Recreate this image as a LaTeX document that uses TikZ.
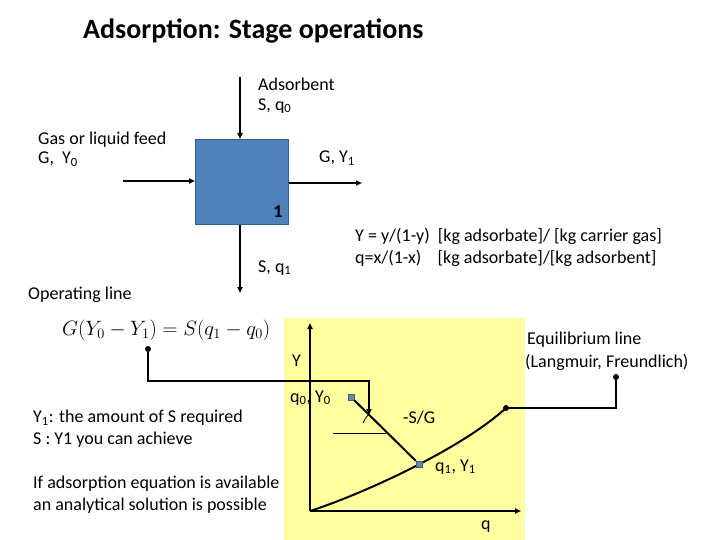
\documentclass[tikz,border=0pt]{standalone}
\usepackage{fontspec}
\setmainfont{Carlito}
\usetikzlibrary{arrows.meta}
\definecolor{boxblue}{HTML}{4F81BD}
\definecolor{boxedge}{HTML}{385D8A}
\definecolor{paleyellow}{HTML}{FFFFA0}
\definecolor{markgrey}{HTML}{6F87A8}
\begin{document}
\begin{tikzpicture}[x=1pt,y=-1pt,
  txt/.style={anchor=west,inner sep=0pt,font=\fontsize{18}{21}\selectfont},
  flow/.style={line width=1.5pt,-{Triangle[length=6pt,width=5pt]}},
  link/.style={line width=1.5pt},
  dotmark/.style={circle,fill=black,inner sep=0pt,minimum size=6pt},
  ptmark/.style={rectangle,fill=markgrey,draw=boxedge,line width=0.4pt,inner sep=0pt,minimum size=6pt}]
\useasboundingbox (0,0) rectangle (720,540);
\fill[white] (0,0) rectangle (720,540);
% title
\node[anchor=west,inner sep=0pt,font=\fontsize{28}{32}\selectfont\bfseries] (title) at (83,31) {Adsorption: Stage operations};
% stage box
\node[draw=boxedge,fill=boxblue,line width=1pt,minimum width=93pt,minimum height=85pt,inner sep=0pt,anchor=north west] (stage) at (195,139) {};
\node[inner sep=0pt,font=\fontsize{18}{21}\selectfont\bfseries] (one) at (278,212) {1};
\coordinate (topin) at (240,77);
\coordinate (botout) at (240,293);
\coordinate (leftin) at (123,181);
\coordinate (rightout) at (362,183);
\draw[flow] (topin) -- (stage.north -| topin);
\draw[flow] (stage.south -| botout) -- (botout);
\draw[flow] (leftin) -- (stage.west |- leftin);
\draw[flow] (stage.east |- rightout) -- (rightout);
\node[txt] (adsorbent) at (258,84) {Adsorbent};
\node[txt] (sq0) at (258,106) {S, q\textsubscript{0}};
\node[txt] (feed) at (38,140) {Gas or liquid feed};
\node[txt] (gy0) at (38,159) {G,\ \ Y\textsubscript{0}};
\node[txt] (gy1) at (319,158) {G, Y\textsubscript{1}};
\node[txt] (sq1) at (258,268) {S, q\textsubscript{1}};
\node[txt] (defY) at (355,236) {Y = y/(1-y)\ \ [kg adsorbate]/ [kg carrier gas]};
\node[txt] (defq) at (355,258) {q=x/(1-x)\ \ \ \ [kg adsorbate]/[kg adsorbent]};
\node[txt] (opline) at (28,295) {Operating line};
\node[anchor=west,inner sep=0pt,font=\fontsize{20}{24}\selectfont] (eqn) at (62,330) {$G(Y_0-Y_1)=S(q_1-q_0)$};
% diagram panel
\fill[paleyellow] (284,318) rectangle (525,540);
\coordinate (orig) at (310,511);
\coordinate (ytop) at (310,323);
\coordinate (xend) at (521,511);
\draw[line width=1.5pt,-{Triangle[length=6pt,width=5pt]}] (orig) -- (ytop);
\draw[line width=1.5pt,-{Triangle[length=6pt,width=5pt]}] (orig) -- (xend);
\node[txt] (ylab) at (292,361) {Y};
\node[txt] (qlab) at (481,527) {q};
\node[txt] (q0y0) at (290,398) {q\textsubscript{0}, Y\textsubscript{0}};
\node[txt] (slope) at (403,418) {-S/G};
\node[txt] (q1y1) at (435,467) {q\textsubscript{1}, Y\textsubscript{1}};
\coordinate (eqend) at (506,408);
\draw[line width=2pt] (orig) .. controls (360,495) and (460,450) .. (eqend);
\node[ptmark] (p0) at (351,397) {};
\node[ptmark] (p1) at (419,464) {};
\draw[line width=2pt] (p0) -- (p1);
\coordinate (hl) at (333,433);
\coordinate (hr) at (386,433);
\draw[line width=0.8pt] (hl) -- (hr);
\draw[line width=0.8pt] (363,423) arc[start angle=202,end angle=226,radius=27];
% connector from equation to operating line
\node[dotmark] (eqdot) at (148,349) {};
\coordinate (c1) at (148,381);
\coordinate (c2) at (369,381);
\coordinate (c3) at (369,415);
\draw[link,-{Triangle[length=6pt,width=5pt]}] (eqdot) -- (c1) -- (c2) -- (c3);
% equilibrium connector
\node[txt] (eqlab1) at (527,340) {Equilibrium line};
\node[txt] (eqlab2) at (525,362) {(Langmuir, Freundlich)};
\node[dotmark] (eqdot2) at (616,377) {};
\node[dotmark] (eqdot3) at (eqend) {};
\draw[link] (eqdot2) -- (616,408) -- (eqdot3);
% notes
\node[txt] (note1) at (33,418) {Y\textsubscript{1}: the amount of S required};
\node[txt] (note2) at (33,440) {S : Y1 you can achieve};
\node[txt] (note3) at (33,484) {If adsorption equation is available};
\node[txt] (note4) at (33,506) {an analytical solution is possible};
\end{tikzpicture}
\end{document}
